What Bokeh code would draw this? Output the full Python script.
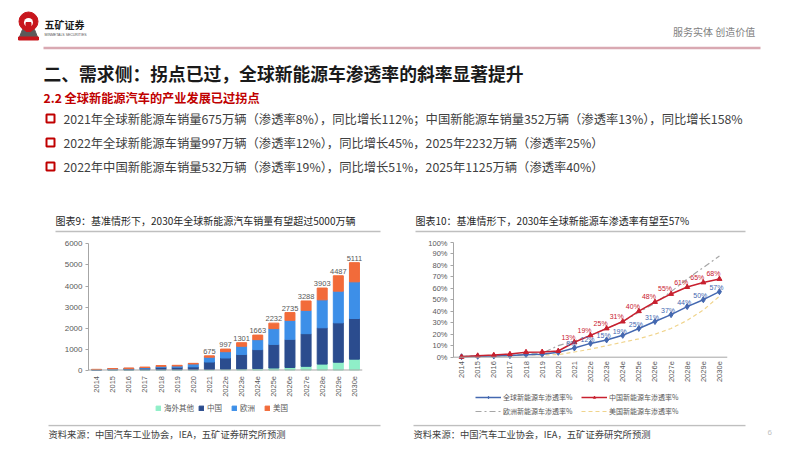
import math
from bokeh.plotting import figure
from bokeh.layouts import column, row
from bokeh.models import (Range1d, FactorRange, Legend, LegendItem, FixedTicker,
                          PrintfTickFormatter, ColumnDataSource, Span)
from bokeh.core.properties import value
from bokeh.embed import file_html
from bokeh.resources import INLINE

CJK = "Noto Sans CJK SC"
NUM = "Liberation Sans"

# ---------------- data ----------------
years = ["2014", "2015", "2016", "2017", "2018", "2019", "2020", "2021",
         "2022e", "2023e", "2024e", "2025e", "2026e", "2027e", "2028e", "2029e", "2030e"]

sales_other = [3, 4, 5, 10, 10, 12, 14, 28, 40, 50, 70, 95, 120, 175, 280, 370, 516]
sales_china = [7, 33, 51, 78, 126, 121, 137, 352, 532, 690, 900, 1125, 1340, 1555, 1730, 1875, 1936]
sales_europe = [10, 19, 21, 31, 41, 57, 136, 230, 300, 390, 475, 750, 905, 1110, 1330, 1510, 1746]
sales_us = [12, 11, 16, 20, 36, 33, 30, 65, 125, 171, 218, 262, 370, 448, 563, 732, 913]
sales_series = ["海外其他", "中国", "欧洲", "美国"]
labelled_years = ["2021", "2022e", "2023e", "2024e", "2025e", "2026e", "2027e", "2028e", "2029e", "2030e"]
sales_totals = [675, 997, 1301, 1663, 2232, 2735, 3288, 3903, 4487, 5111]

pen_global = [0.4, 0.8, 1.0, 1.4, 2.2, 2.5, 4.2, 8, 12, 15, 19, 25, 31, 37, 44, 50, 57]
pen_china = [0.3, 1.3, 1.8, 2.7, 4.4, 4.6, 5.4, 13, 19, 25, 31, 40, 48, 55, 61, 65, 68]
pen_europe = [0.7, 1.2, 1.3, 1.7, 2.5, 3.5, 10, 14, 19, 25, 31, 39, 47, 57, 68, 78, 88]
pen_us = [0.7, 0.7, 0.9, 1.2, 2.1, 2.0, 2.2, 4.5, 7, 10, 13, 16, 20, 25, 32, 41, 53]
pen_series = ["全球新能源车渗透率%", "中国新能源车渗透率%", "欧洲新能源车渗透率%", "美国新能源车渗透率%"]
pen_y_ticks = [0, 10, 20, 30, 40, 50, 60, 70, 80, 90, 100]
sales_y_ticks = [0, 1000, 2000, 3000, 4000, 5000, 6000]

title_text = "二、需求侧：拐点已过，全球新能源车渗透率的斜率显著提升"
subtitle_text = "2.2 全球新能源汽车的产业发展已过拐点"
bullets = [
    "2021年全球新能源车销量675万辆（渗透率8%），同比增长112%；中国新能源车销量352万辆（渗透率13%），同比增长158%",
    "2022年全球新能源车销量997万辆（渗透率12%），同比增长45%，2025年2232万辆（渗透率25%）",
    "2022年中国新能源车销量532万辆（渗透率19%），同比增长51%，2025年1125万辆（渗透率40%）",
]
chart1_title = "图表9：基准情形下，2030年全球新能源汽车销量有望超过5000万辆"
chart2_title = "图表10：基准情形下，2030年全球新能源车渗透率有望至57%"
source_text = "资料来源：中国汽车工业协会，IEA，五矿证券研究所预测"
brand = "五矿证券"
brand_en = "MINMETALS SECURITIES"
slogan = "服务实体  创造价值"
page_no = "6"

GRAY_TXT = "#595959"
AXIS = "#A6A6A6"


def bare(fig):
    fig.grid.visible = False
    fig.outline_line_color = None
    fig.background_fill_color = "white"
    fig.border_fill_color = "white"
    return fig


# ---------------- header ----------------
hdr = bare(figure(width=802, height=238, x_range=Range1d(0, 802), y_range=Range1d(238, 0),
                  x_axis_location=None, y_axis_location=None, min_border=0,
                  output_backend="svg", toolbar_location=None))
hdr.patch(x=[18, 38, 34, 22], y=[39, 39, 29, 29], color="#5A5A5A")
hdr.scatter(x=[28], y=[21], size=19, marker="circle", color="#C8161D")
hdr.scatter(x=[28], y=[22], size=9, marker="circle", fill_color="white", line_color=None)
hdr.quad(left=[25.5], right=[30.5], top=[22], bottom=[31], color="#C8161D")
hdr.quad(left=[18], right=[38], top=[36.5], bottom=[39.5], color="#C8161D")
hdr.text(x=[44], y=[24], text=[brand], text_font=value(CJK), text_font_size="10px",
         text_font_style="bold", text_baseline="middle", text_color="#1A1A1A")
hdr.text(x=[44], y=[34], text=[brand_en], text_font=value(NUM), text_font_size="3.5px",
         text_baseline="middle", text_color="#555555")
hdr.text(x=[757], y=[31], text=[slogan], text_font=value(CJK), text_font_size="10px",
         text_align="right", text_baseline="middle", text_color="#7F7F7F")
hdr.segment(x0=[43], y0=[47.5], x1=[760], y1=[47.5], line_color="#D9A9B2", line_width=2.5)
hdr.text(x=[43], y=[72], text=[title_text], text_font=value(CJK), text_font_size="17.8px",
         text_font_style="bold", text_baseline="middle", text_color="#1A1A1A")
hdr.text(x=[43], y=[97], text=[subtitle_text], text_font=value(CJK), text_font_size="12.2px",
         text_font_style="bold", text_baseline="middle", text_color="#C00000")
hdr.scatter(x=[50, 50, 50], y=[118, 142, 166], marker="square", size=8,
            fill_color="white", line_color="#C00000", line_width=2)
hdr.text(x=[63, 63, 63], y=[118, 142, 166], text=bullets, text_font=value(CJK),
         text_font_size="12.3px", text_baseline="middle", text_color="#404040")
hdr.text(x=[55, 415], y=[220, 220], text=[chart1_title, chart2_title], text_font=value(CJK),
         text_font_size="10px", text_baseline="middle", text_color="#262626")
hdr.segment(x0=[55, 415], y0=[231, 231], x1=[380, 745], y1=[231, 231],
            line_color="#BFBFBF", line_width=1.5)


def style_axes(fig, y_bounds, y_font, label_offset):
    ya = fig.yaxis[0]
    ya.axis_line_color = AXIS
    ya.major_tick_line_color = AXIS
    ya.minor_tick_line_color = None
    ya.major_tick_in = 0
    ya.major_tick_out = 3
    ya.major_label_text_color = GRAY_TXT
    ya.major_label_text_font = NUM
    ya.major_label_text_font_size = y_font
    ya.major_label_standoff = 3
    ya.bounds = y_bounds
    # category axis: baseline on the zero line, rotated category labels below it
    fig.add_layout(Span(location=0, dimension="width", line_color=AXIS, line_width=1))
    fig.text(x=years, y=[0] * len(years), text=years, angle=math.pi / 2, y_offset=label_offset,
             text_align="right", text_baseline="middle", text_font=value(NUM),
             text_font_size="7.5px", text_color=GRAY_TXT)


FIG_H = 186  # page y 238 .. 424

# ---------------- left chart: sales ----------------
left = bare(figure(width=400, height=FIG_H, x_range=FactorRange(*years),
                   y_range=Range1d(-2214, 6119), x_axis_location=None,
                   min_border_left=88, min_border_right=38, min_border_top=3, min_border_bottom=8,
                   output_backend="svg", toolbar_location=None))
src = ColumnDataSource(dict(years=years, s0=sales_other, s1=sales_china, s2=sales_europe, s3=sales_us))
bar_colors = ["#8FEFC8", "#2B4C8E", "#3D8FE8", "#F26B3A"]
bars = left.vbar_stack(["s0", "s1", "s2", "s3"], x="years", width=0.62, color=bar_colors, source=src)
left.text(x=labelled_years, y=sales_totals, text=[str(v) for v in sales_totals],
          y_offset=-2, text_align="center", text_baseline="bottom", text_font=value(NUM),
          text_font_size="7.5px", text_color=GRAY_TXT)
style_axes(left, (0, 6000), "8px", 6)
left.yaxis[0].ticker = FixedTicker(ticks=sales_y_ticks)
legL = Legend(items=[LegendItem(label=n, renderers=[r]) for n, r in zip(sales_series, bars)],
              location=(67, 3), orientation="horizontal", background_fill_alpha=0,
              border_line_alpha=0, label_text_font=CJK, label_text_font_size="7.5px",
              label_text_color=GRAY_TXT, glyph_width=6, glyph_height=6, label_standoff=3,
              spacing=4, padding=0, margin=0, label_height=9)
left.add_layout(legL)

# ---------------- right chart: penetration ----------------
right = bare(figure(width=402, height=FIG_H, x_range=FactorRange(*years),
                    y_range=Range1d(-51.57, 100.6), x_axis_location=None,
                    min_border_left=53, min_border_right=75, min_border_top=3, min_border_bottom=8,
                    output_backend="svg", toolbar_location=None))
r_eu = right.line(years, pen_europe, line_color="#A6A6A6", line_width=1.2, line_dash="6 3 2 3")
r_us = right.line(years, pen_us, line_color="#F0D48C", line_width=1.2, line_dash="4 3")
r_gl = right.line(years, pen_global, line_color="#4468B0", line_width=1.5)
r_glm = right.scatter(years, pen_global, marker="diamond", size=6, color="#4468B0")
r_cn = right.line(years, pen_china, line_color="#C8202F", line_width=1.5)
r_cnm = right.scatter(years, pen_china, marker="triangle", size=5, color="#C8202F")

i0 = years.index("2021")
right.text(x=years[i0:], y=pen_global[i0:], text=[f"{v:g}%" for v in pen_global[i0:]],
           x_offset=-3, y_offset=-4, text_align="center", text_baseline="middle",
           text_font=value(NUM), text_font_size="7px", text_color="#4468B0")
right.text(x=years[i0:], y=pen_china[i0:], text=[f"{v:g}%" for v in pen_china[i0:]],
           x_offset=-6, y_offset=-5, text_align="center", text_baseline="middle",
           text_font=value(NUM), text_font_size="7px", text_color="#C8202F")
style_axes(right, (0, 100), "7.5px", 4)
right.yaxis[0].ticker = FixedTicker(ticks=pen_y_ticks)
right.yaxis[0].formatter = PrintfTickFormatter(format="%d%%")

legR = Legend(items=[LegendItem(label=pen_series[0], renderers=[r_gl, r_glm]),
                     LegendItem(label=pen_series[1], renderers=[r_cn, r_cnm]),
                     LegendItem(label=pen_series[2], renderers=[r_eu]),
                     LegendItem(label=pen_series[3], renderers=[r_us])],
              ncols=2, location=(22, 0), orientation="horizontal",
              background_fill_alpha=0, border_line_alpha=0,
              label_text_font=CJK, label_text_font_size="7px", label_text_color=GRAY_TXT,
              glyph_width=26, glyph_height=6, label_standoff=2, label_width=74,
              spacing=4, padding=0, margin=0, label_height=10)
right.add_layout(legR)

# ---------------- footer ----------------
ftr = bare(figure(width=802, height=27, x_range=Range1d(0, 802), y_range=Range1d(451, 424),
                  x_axis_location=None, y_axis_location=None, min_border=0,
                  output_backend="svg", toolbar_location=None))
ftr.segment(x0=[48, 413], y0=[425, 425], x1=[380, 745], y1=[425, 425],
            line_color="#BFBFBF", line_width=1.5)
ftr.text(x=[48, 413], y=[433, 433], text=[source_text, source_text], text_font=value(CJK),
         text_font_size="9.3px", text_baseline="middle", text_color="#404040")
ftr.text(x=[767], y=[432], text=[page_no], text_font=value(NUM), text_font_size="8px",
         text_baseline="middle", text_color="#BFBFBF")

page = column(hdr, row(left, right), ftr)
open("out.html", "w").write(file_html(page, INLINE))
